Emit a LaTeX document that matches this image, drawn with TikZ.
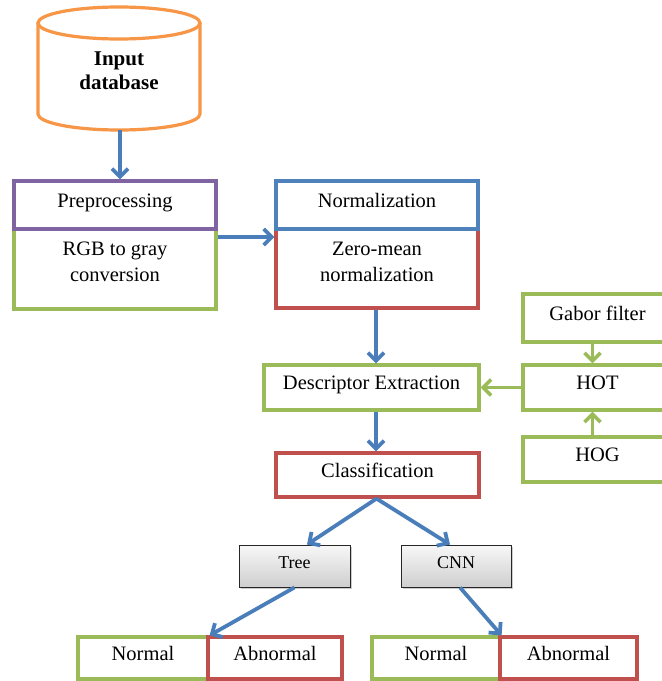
\documentclass[tikz,border=0pt]{standalone}
\usepackage{fontspec}
\setmainfont{Liberation Serif}
\usetikzlibrary{arrows.meta,shadows,calc}
\definecolor{cOrange}{HTML}{F79646}
\definecolor{cPurple}{HTML}{8064A2}
\definecolor{cGreen}{HTML}{9BBB59}
\definecolor{cRed}{HTML}{C0504D}
\definecolor{cBlue}{HTML}{4F81BD}
\definecolor{cArrow}{HTML}{4A7EBB}
\begin{document}
\begin{tikzpicture}[x=1pt,y=-1pt,
  box/.style={draw, line width=3.2pt, fill=white, rectangle, inner sep=0pt,
    font=\fontsize{20.5}{25.5}\selectfont, text height=12pt, text depth=8pt},
  txt/.style={align=center, inner sep=0pt, font=\fontsize{20.5}{25.5}\selectfont},
  garr/.style={draw=cGreen, line width=3.6pt, -{Straight Barb[length=8pt,width=16pt]}},
  barr/.style={draw=cArrow, line width=3.8pt, -{Straight Barb[length=8pt,width=16pt]}},
  graybox/.style={draw=black!85, line width=0.9pt, top color=gray!6, bottom color=gray!38,
    inner sep=0pt, minimum height=42pt, font=\fontsize{18}{20}\selectfont,
    text height=10pt, text depth=6pt,
    drop shadow={shadow xshift=2pt, shadow yshift=-2pt, opacity=0.4}}
]
\useasboundingbox (0,0) rectangle (662,681);
\fill[white] (0,0) rectangle (662,681);

% cylinder
\draw[cOrange, line width=3.2pt, fill=white] (38,23) -- (38,114)
  arc[start angle=180, end angle=360, x radius=81pt, y radius=16pt] -- (200,23);
\draw[cOrange, line width=3.2pt] (119,23) ellipse [x radius=81pt, y radius=16pt];
\node[txt, font=\fontsize{21}{24}\selectfont\bfseries] (db) at (119,71) {Input\\database};
\coordinate (dbb) at (120,130);

% preprocessing
\node[box, draw=cGreen, minimum width=202pt, minimum height=80pt] (rgb) at (115,269) {};
\node[box, draw=cPurple, minimum width=202pt, minimum height=48pt] (pre) at (115,205) {Preprocessing};
\node[txt] (rgbt) at (115,262) {RGB to gray\\conversion};

% normalization
\node[box, draw=cRed, minimum width=202pt, minimum height=79pt] (zm) at (377,268.5) {};
\node[box, draw=cBlue, minimum width=202pt, minimum height=48pt] (norm) at (377,205) {Normalization};
\node[txt] (zmt) at (377,262) {Zero-mean\\normalization};

% descriptor / classification
\node[box, draw=cGreen, minimum width=215pt, minimum height=45pt] (desc) at (371.5,387.5) {Descriptor Extraction};
\node[box, draw=cRed, minimum width=203pt, minimum height=44pt] (cls) at (377.5,475) {Classification};

% right column
\node[box, draw=cGreen, minimum width=149pt, minimum height=48pt] (gab) at (597.5,318) {Gabor filter};
\node[box, draw=cGreen, minimum width=149pt, minimum height=45pt] (hot) at (597.5,387.5) {HOT};
\node[box, draw=cGreen, minimum width=149pt, minimum height=45pt] (hog) at (597.5,459.5) {HOG};

% classifiers
\node[graybox, minimum width=111pt] (tree) at (294.5,566) {Tree};
\node[graybox, minimum width=110pt] (cnn) at (456,566) {CNN};

% outputs
\node[box, draw=cGreen, minimum width=130pt, minimum height=42pt] (n1) at (143,658) {Normal};
\node[box, draw=cRed, minimum width=134pt, minimum height=42pt] (a1) at (275,658) {Abnormal};
\node[box, draw=cGreen, minimum width=128pt, minimum height=42pt] (n2) at (436,658) {Normal};
\node[box, draw=cRed, minimum width=137pt, minimum height=42pt] (a2) at (568.5,658) {Abnormal};

% connectors
\draw[barr] (dbb) -- (dbb |- pre.north);
\draw[barr] ([yshift=32pt]rgb.east) -- ([yshift=32pt]rgb.east -| zm.west);
\draw[barr] ([xshift=-1pt]zm.south) -- ([xshift=-1pt]zm.south |- desc.north);
\draw[barr] ([xshift=-1pt]zm.south |- desc.south) -- ([xshift=-1pt]zm.south |- cls.north);
\draw[garr] (hot.west) -- (hot.west -| desc.east);
\draw[garr] ([xshift=-5pt]gab.south) -- ([xshift=-5pt]hot.north);
\draw[garr] ([xshift=-5pt]hog.north) -- ([xshift=-5pt]hot.south);
\draw[barr] ([xshift=-1pt]cls.south) -- ([xshift=12.5pt]tree.north);
\draw[barr] ([xshift=-1pt]cls.south) -- ([xshift=-6pt]cnn.north);
\draw[barr] (tree.south) -- (n1.north east);
\draw[barr] ([xshift=4pt]cnn.south) -- (n2.north east);
\end{tikzpicture}
\end{document}
